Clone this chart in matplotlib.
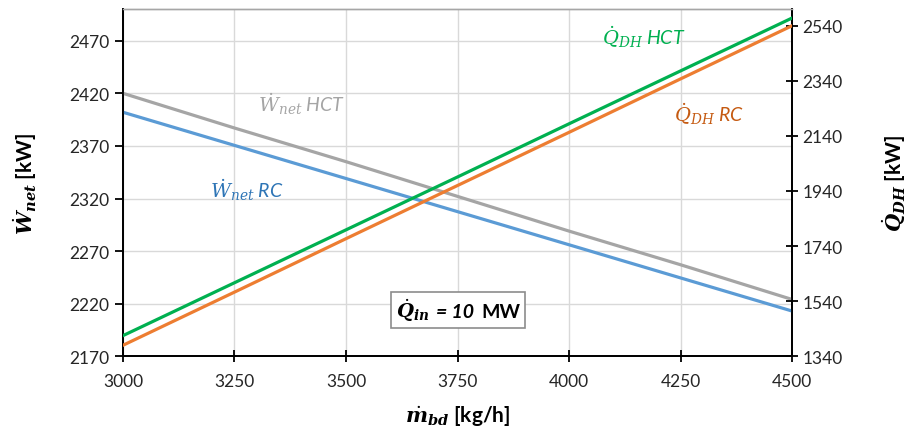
import matplotlib
matplotlib.use("Agg")
import matplotlib.pyplot as plt
from matplotlib.offsetbox import TextArea, HPacker, AnnotationBbox

plt.rcParams['font.family'] = ['Lato', 'DejaVu Sans']
plt.rcParams['mathtext.fontset'] = 'dejavuserif'

# Data
m_bd = [3000, 3250, 3500, 3750, 4000, 4250, 4500]
w_net_rc = [2402, 2370.5, 2339, 2307.5, 2276, 2244.5, 2213]
w_net_hct = [2420, 2387, 2355, 2322, 2289, 2257, 2224]
q_dh_hct = [1415, 1607, 1799, 1991, 2184, 2376, 2568]
q_dh_rc = [1380, 1573, 1767, 1960, 2153, 2347, 2540]

x_ticks = [3000, 3250, 3500, 3750, 4000, 4250, 4500]
left_ticks = [2170, 2220, 2270, 2320, 2370, 2420, 2470]
right_ticks = [1340, 1540, 1740, 1940, 2140, 2340, 2540]

c_blue = '#5b9bd5'
c_gray = '#a5a5a5'
c_green = '#00b050'
c_orange = '#ed7d31'

fig = plt.figure(figsize=(9.17, 4.39), dpi=100)
ax = fig.add_axes([0.134, 0.186, 0.730, 0.791])
ax2 = ax.twinx()

ax.plot(m_bd, w_net_hct, color=c_gray, lw=2.3, zorder=3)
ax.plot(m_bd, w_net_rc, color=c_blue, lw=2.3, zorder=3)
ax2.plot(m_bd, q_dh_rc, color=c_orange, lw=2.3, zorder=3)
ax2.plot(m_bd, q_dh_hct, color=c_green, lw=2.3, zorder=3)

ax.set_xlim(3000, 4500)
ax.set_ylim(2170, 2500)
ax2.set_ylim(1340, 2600)
ax.set_xticks(x_ticks)
ax.set_yticks(left_ticks)
ax2.set_yticks(right_ticks)

ax.grid(True, color='#d9d9d9', lw=1.0, zorder=0)
ax.set_axisbelow(True)

for a in (ax, ax2):
    for s in ('left', 'right', 'bottom'):
        a.spines[s].set_color('black')
        a.spines[s].set_linewidth(1.3)
    a.spines['top'].set_color('#a6a6a6')
    a.spines['top'].set_linewidth(1.0)

ax.tick_params(axis='both', labelsize=12.5, width=1.3, length=6, direction='out', colors='black')
ax.tick_params(axis='x', direction='inout', length=8, pad=8)
ax2.tick_params(axis='y', labelsize=12.5, width=1.3, length=8, direction='inout')
for lab in ax.get_xticklabels() + ax.get_yticklabels() + ax2.get_yticklabels():
    lab.set_color('#262626')

ax.set_xlabel(r'$\dot{\boldsymbol{m}}_{\boldsymbol{bd}}$ [kg/h]', fontsize=15, fontweight='bold', labelpad=10)
ax.set_ylabel(r'$\dot{\boldsymbol{W}}_{\boldsymbol{net}}$ [kW]', fontsize=15, fontweight='bold', labelpad=22)
ax2.set_ylabel(r'$\dot{\boldsymbol{Q}}_{\boldsymbol{DH}}$ [kW]', fontsize=15, fontweight='bold', labelpad=27)

ax.text(3278, 2329, r'$\dot{W}_{net}$ RC', color='#2e75b6', fontsize=14, style='italic', ha='center', va='center')
ax.text(3401, 2411, r'$\dot{W}_{net}$ HCT', color=c_gray, fontsize=14, style='italic', ha='center', va='center')
ax.text(4166, 2474, r'$\dot{Q}_{DH}$ HCT', color=c_green, fontsize=14, style='italic', ha='center', va='center')
ax.text(4314, 2401, r'$\dot{Q}_{DH}$ RC', color='#c55a11', fontsize=14, style='italic', ha='center', va='center')

parts = HPacker(children=[
    TextArea(r'$\dot{\boldsymbol{Q}}_{\boldsymbol{in}}$', textprops=dict(fontsize=14, fontweight='bold')),
    TextArea('= 10', textprops=dict(fontsize=14, fontweight='bold', style='italic')),
    TextArea('MW', textprops=dict(fontsize=14, fontweight='bold')),
], align='baseline', pad=0, sep=5)
ab = AnnotationBbox(parts, (3751, 2214), xycoords='data', frameon=True, pad=0.35,
                    bboxprops=dict(boxstyle='square,pad=0.35', fc='white', ec='#8c8c8c', lw=1.2), zorder=5)
ax.add_artist(ab)

fig.savefig('out.png', dpi=100)
